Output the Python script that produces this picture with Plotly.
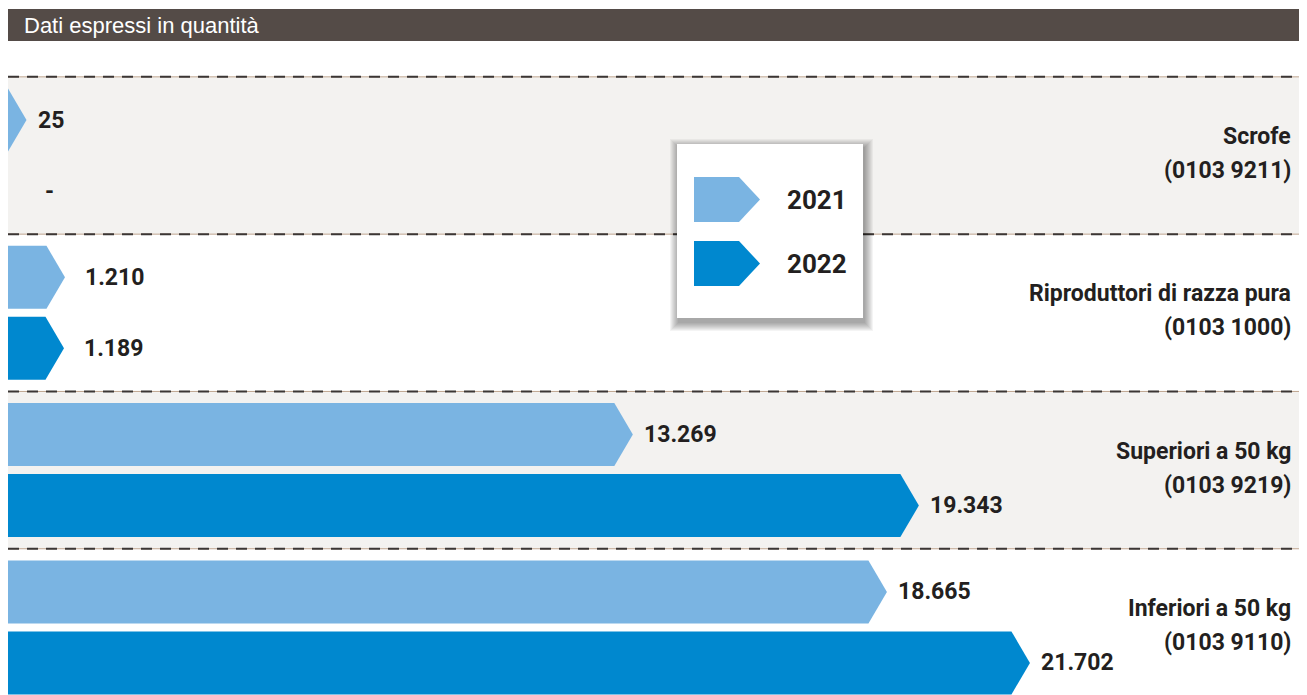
import plotly.graph_objects as go

# data
categories = ["Scrofe", "Riproduttori di razza pura", "Superiori a 50 kg", "Inferiori a 50 kg"]
codes = ["(0103 9211)", "(0103 1000)", "(0103 9219)", "(0103 9110)"]
years = ["2021", "2022"]
values_2021 = [25, 1210, 13269, 18665]
values_2022 = [None, 1189, 19343, 21702]

# the page adds an 8px body margin, so the figure starts at (8, 8)
PAGE_OFF = 8
W, H = 1307 - PAGE_OFF, 695 - PAGE_OFF
COL_2021 = "#7ab4e2"
COL_2022 = "#0088cf"
BAND = "#f3f2f0"
TXT = "#231f20"
FONT = "Roboto, Liberation Sans Narrow, DejaVu Sans Condensed, sans-serif"

PX_PER_UNIT = 0.04709                 # horizontal scale of the bars
X_MAX = W / PX_PER_UNIT
TIP = 18.5 / PX_PER_UNIT              # arrow head width in data units
GROUP_PX = 157.3
Y_TOP = (PAGE_OFF - 155.5) / GROUP_PX
Y_BOT = (695 - 155.5) / GROUP_PX
OFF = 35.5 / GROUP_PX                 # offset of each year inside a group
HALF = 31.5 / GROUP_PX                # half bar height


def px_x(p):
    return (p - PAGE_OFF) / W


def px_y(p):
    return 1 - (p - PAGE_OFF) / H


def fmt(v):
    return "-" if v is None else f"{v:,}".replace(",", ".")


fig = go.Figure()
annotations = []
shapes = []

# alternating grey bands
for i in range(len(categories)):
    if i % 2 == 0:
        shapes.append(dict(type="rect", xref="paper", yref="y", x0=0, x1=1,
                           y0=i - 0.5, y1=i + 0.5, fillcolor=BAND,
                           line=dict(width=0), layer="below"))

# dashed separators
for i in range(len(categories)):
    shapes.append(dict(type="line", xref="paper", yref="y", x0=0, x1=1,
                       y0=i - 0.5, y1=i - 0.5,
                       line=dict(color="#bfa58f", width=1), layer="below"))
    shapes.append(dict(type="line", xref="paper", yref="y", x0=0, x1=1,
                       y0=i - 0.5, y1=i - 0.5,
                       line=dict(color="#3b3634", width=2, dash="11px,8px"), layer="below"))

# arrow bars
for sign, vals, col in [(-1, values_2021, COL_2021), (1, values_2022, COL_2022)]:
    for i, v in enumerate(vals):
        c = i + sign * OFF
        if v is None:
            annotations.append(dict(x=TIP, y=c, xref="x", yref="y", text="<b>-</b>",
                                    showarrow=False, xanchor="left", xshift=16,
                                    font=dict(family=FONT, size=23, color=TXT)))
            continue
        tip = max(v, TIP)
        r = tip - TIP
        fig.add_trace(go.Scatter(
            x=[0, r, tip, r, 0, 0],
            y=[c - HALF, c - HALF, c, c + HALF, c + HALF, c - HALF],
            mode="lines", fill="toself", fillcolor=col,
            line=dict(width=0, color=col), showlegend=False, hoverinfo="skip",
        ))
        # short arrows get a bit more room before their label
        gap = 18 if v < 5 * TIP and v > TIP else 9
        annotations.append(dict(x=tip, y=c, xref="x", yref="y", text=f"<b>{fmt(v)}</b>",
                                showarrow=False, xanchor="left", xshift=gap,
                                font=dict(family=FONT, size=23, color=TXT)))

# category labels on the right (name and code as two lines)
for i, (name, code) in enumerate(zip(categories, codes)):
    for txt, shift in [(name, 19), (code, -15)]:
        annotations.append(dict(x=1, y=i, xref="paper", yref="y", xanchor="right",
                                yanchor="middle", xshift=-14, yshift=shift, showarrow=False,
                                text=f"<b>{txt}</b>",
                                font=dict(family=FONT, size=23, color=TXT)))

# header strip
shapes.append(dict(type="rect", xref="paper", yref="paper", x0=0, x1=1,
                   y0=px_y(41), y1=px_y(9), fillcolor="#544b47", line=dict(width=0)))
annotations.append(dict(x=px_x(22), y=px_y(25), xref="paper", yref="paper",
                        xanchor="left", yanchor="middle", showarrow=False,
                        text="Dati espressi in quantità",
                        font=dict(family="Liberation Sans, Arial, sans-serif", size=22, color="white")))

# legend box with shadow
bx0, bx1, by0, by1 = 677, 863, 144, 318
for k in range(9, 0, -1):
    shapes.append(dict(type="rect", xref="paper", yref="paper",
                       x0=px_x(bx0 - k + 2), x1=px_x(bx1 + k + 1),
                       y0=px_y(by1 + k + 4), y1=px_y(by0 - k + 4),
                       fillcolor="rgba(0,0,0,0.045)", line=dict(width=0)))
shapes.append(dict(type="rect", xref="paper", yref="paper",
                   x0=px_x(bx0), x1=px_x(bx1), y0=px_y(by1), y1=px_y(by0),
                   fillcolor="white", line=dict(width=0)))
for top, col, yr in [(177, COL_2021, years[0]), (241, COL_2022, years[1])]:
    bot = top + 45
    mid = (top + bot) / 2
    pts = [(694, top), (739, top), (760, mid), (739, bot), (694, bot)]
    path = "M " + " L ".join(f"{px_x(a):.5f},{px_y(b):.5f}" for a, b in pts) + " Z"
    shapes.append(dict(type="path", xref="paper", yref="paper", path=path,
                       fillcolor=col, line=dict(width=0)))
    annotations.append(dict(x=px_x(785), y=px_y(mid), xref="paper", yref="paper",
                            xanchor="left", yanchor="middle", showarrow=False,
                            text=f"<b>{yr}</b>",
                            font=dict(family=FONT, size=26, color=TXT)))

fig.update_layout(
    width=W, height=H, autosize=False,
    margin=dict(l=0, r=0, t=0, b=0),
    paper_bgcolor="white", plot_bgcolor="rgba(0,0,0,0)",
    xaxis=dict(range=[0, X_MAX], visible=False, fixedrange=True),
    yaxis=dict(range=[Y_BOT, Y_TOP], visible=False, fixedrange=True),
    shapes=shapes, annotations=annotations,
)

fig.write_html("out.html")
